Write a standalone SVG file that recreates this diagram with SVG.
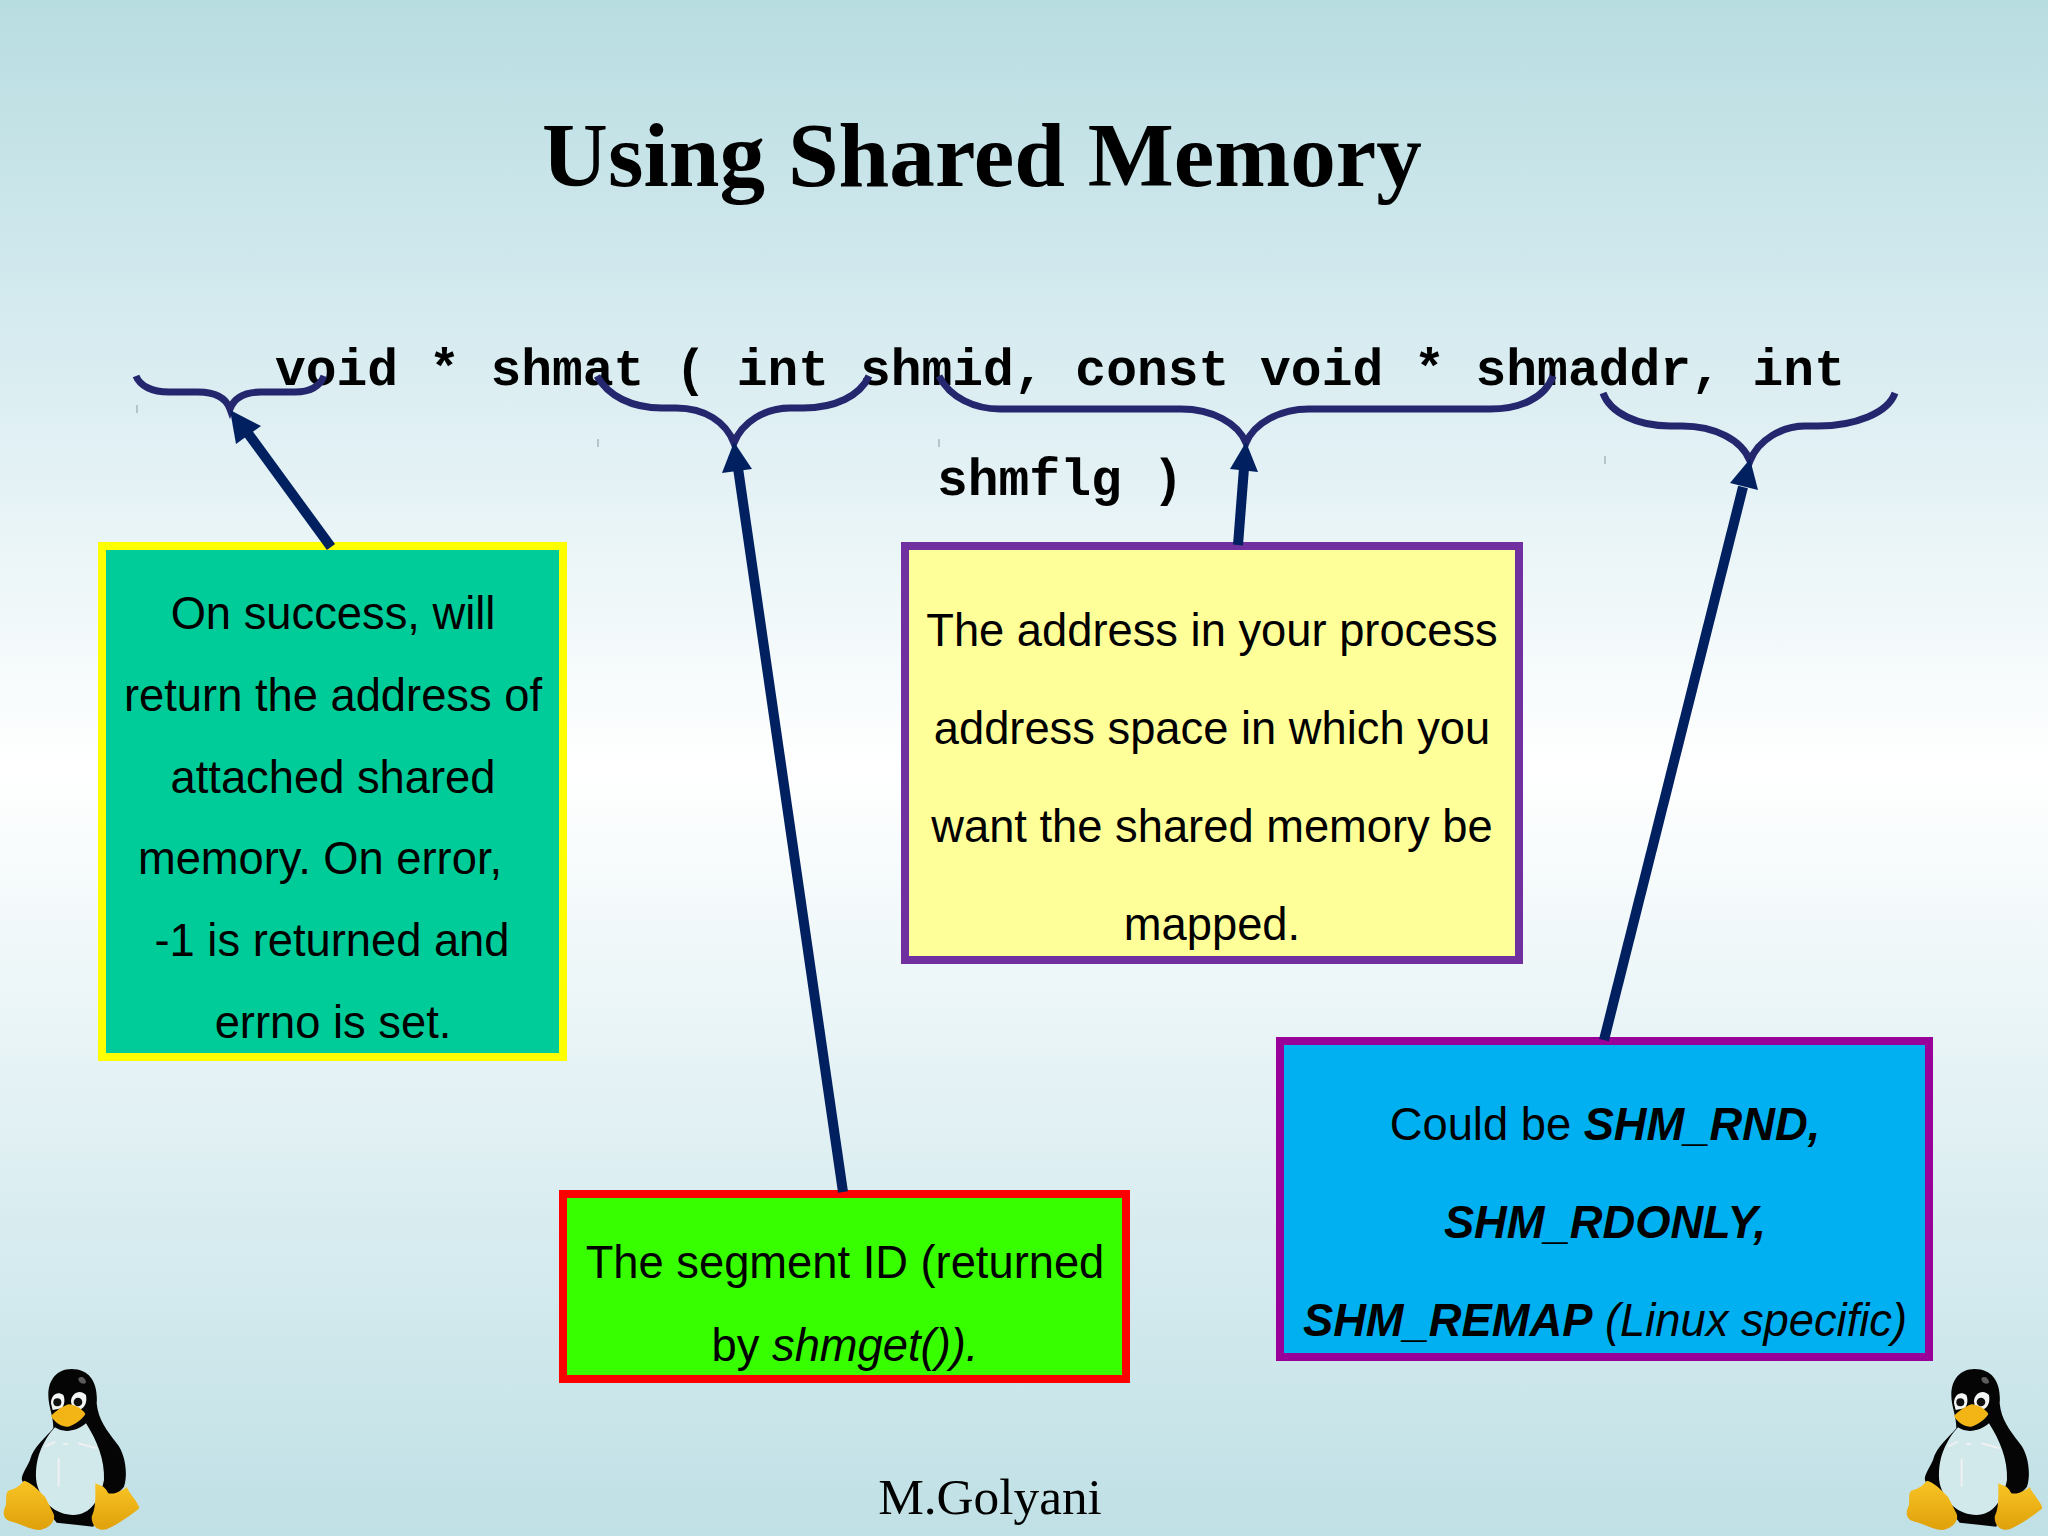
<svg xmlns="http://www.w3.org/2000/svg" xmlns:xlink="http://www.w3.org/1999/xlink" width="2048" height="1536" viewBox="0 0 2048 1536">
<style>
.s{font-family:"Liberation Sans",Arial,sans-serif;font-size:45.3px;fill:#000;text-anchor:middle}
.m{font-family:"Liberation Mono","Courier New",monospace;font-weight:bold;font-size:51.3px;fill:#000}
.b{fill:none;stroke:#24266e;stroke-width:7}
.a{stroke:#002060;stroke-width:10;fill:none}
.h{fill:#002060;stroke:none}
.t{stroke:#9aa8ae;stroke-width:1.2}
.box{stroke-width:8}
</style>
<defs>
<linearGradient id="bg" x1="0" y1="0" x2="0" y2="1">
<stop offset="0" stop-color="#b8dde1"/><stop offset="0.2" stop-color="#d4eaef"/><stop offset="0.5" stop-color="#ffffff"/><stop offset="0.8" stop-color="#d8ecf0"/><stop offset="1" stop-color="#bfe0e5"/>
</linearGradient>
<linearGradient id="ft" x1="0" y1="0" x2="0" y2="1"><stop offset="0" stop-color="#f8c425"/><stop offset="1" stop-color="#e0a00a"/></linearGradient>
<g id="tux" transform="scale(0.3333)">
<path fill="#050505" d="M215 87C170 87 145 120 145 165C145 200 160 225 160 265C140 290 100 320 90 360C80 385 58 410 68 425L110 470L170 548L280 560L300 500L372 440C385 400 375 340 350 310C320 270 295 240 290 190C295 130 270 87 215 87Z"/>
<path fill="#d2e9ec" d="M165 262C130 300 100 360 110 430C125 490 170 525 220 525C270 525 300 480 312 420C315 360 290 300 258 250C230 275 190 280 165 262Z"/>
<path fill="none" stroke="#eef0f2" stroke-width="6" d="M135 320L165 305M190 312L205 312M235 310L290 325M176 355L176 440"/>
<path fill="#f4f6f6" d="M153 190C153 165 172 152 190 165C195 175 195 195 185 205L158 210ZM213 185C213 160 240 145 258 165C262 185 255 205 240 208L215 195Z"/>
<circle cx="172" cy="187" r="12" fill="#111"/><circle cx="234" cy="186" r="13" fill="#111"/>
<path fill="#f3b516" d="M205 193C185 200 165 215 153 228C165 250 190 262 205 260C225 255 250 235 256 222C250 210 225 193 205 193Z"/>
<path fill="#5c5c5c" d="M235 115C245 105 258 115 258 128C250 135 235 130 235 115Z"/>
<path fill="url(#ft)" d="M72 422C90 425 115 450 135 470L160 520C170 540 150 565 120 570C90 570 60 550 35 545C10 540 5 520 18 495C20 470 15 455 30 450C50 445 60 435 72 422Z"/>
<path fill="url(#ft)" d="M286 430L310 440C330 465 370 455 380 440C390 465 415 485 418 505C400 520 360 550 320 568C290 575 275 555 275 530C290 500 285 460 286 430Z"/>
<path fill="#050505" d="M310 435C315 420 350 410 370 425C380 445 350 465 325 460Z"/>
</g>
</defs>
<rect id="background" width="2048" height="1536" fill="url(#bg)"/>
<text id="title" x="982" y="186" text-anchor="middle" style="font-family:'Liberation Serif','Times New Roman',serif;font-weight:bold;font-size:91.2px;fill:#000">Using Shared Memory</text>
<g id="signature-line">
<text class="m" x="275" y="385">void * shmat ( int shmid, const void * shmaddr, int</text>
<text class="m" x="937" y="495">shmflg )</text>
</g>
<g id="node-return">
<rect class="box" x="102" y="546" width="461" height="511" fill="#00cc99" stroke="#ffff00"/>
<text class="s" x="333" y="629">On success, will</text>
<text class="s" x="333" y="711">return the address of</text>
<text class="s" x="333" y="793">attached shared</text>
<text class="s" x="320" y="874">memory. On error,</text>
<text class="s" x="332" y="956">-1 is returned and</text>
<text class="s" x="333" y="1038">errno is set.</text>
</g>
<g id="node-shmid">
<rect class="box" x="563" y="1194" width="563" height="185" fill="#38ff00" stroke="#ff0000"/>
<text class="s" x="845" y="1278">The segment ID (returned</text>
<text class="s" x="845" y="1361">by <tspan font-style="italic">shmget()).</tspan></text>
</g>
<g id="node-shmaddr">
<rect class="box" x="905" y="546" width="614" height="414" fill="#ffff99" stroke="#7030a0"/>
<text class="s" x="1212" y="646">The address in your process</text>
<text class="s" x="1212" y="744">address space in which you</text>
<text class="s" x="1212" y="842">want the shared memory be</text>
<text class="s" x="1212" y="940">mapped.</text>
</g>
<g id="node-shmflg">
<rect class="box" x="1280" y="1041" width="649" height="316" fill="#00b0f0" stroke="#990099"/>
<text class="s" x="1605" y="1140">Could be <tspan font-weight="bold" font-style="italic">SHM_RND,</tspan></text>
<text class="s" x="1605" y="1238" font-weight="bold" font-style="italic">SHM_RDONLY,</text>
<text class="s" x="1605" y="1336"><tspan font-weight="bold" font-style="italic">SHM_REMAP</tspan><tspan font-style="italic"> (Linux specific)</tspan></text>
</g>
<g id="connectors">
<path class="b" d="M136 376C140 386 152 392 169 392L198 392C215 392 226 398 230 409C234 398 245 392 261 392L295 392C310 392 320 386 324 376"/>
<path class="b" d="M597 376C608 396 632 408 662 408L676 408C705 408 726 422 734 443C742 422 765 408 790 408L803 408C835 408 860 396 869 376"/>
<path class="b" d="M939 376C950 398 975 409 1000 409L1181 409C1212 409 1238 423 1246 443C1254 423 1280 409 1309 409L1490 409C1520 409 1545 398 1553 376"/>
<path class="b" d="M1603 393C1610 413 1638 426 1670 426L1682 426C1715 426 1742 440 1750 461C1758 440 1782 426 1805 426L1818 426C1855 426 1888 413 1895 393"/>
<line class="a" x1="331" y1="547" x2="247" y2="432"/><polygon class="h" points="230,410 261,426 236,444"/>
<line class="a" x1="843" y1="1192" x2="738" y2="468"/><polygon class="h" points="734,442 752,469 722,473"/>
<line class="a" x1="1238" y1="545" x2="1244" y2="468"/><polygon class="h" points="1246,442 1258,472 1230,469"/>
<line class="a" x1="1604" y1="1040" x2="1743" y2="487"/><polygon class="h" points="1750,459 1758,490 1730,483"/>
<path class="t" d="M137 405V413M598 439V447M939 439V447M1605 456V464"/>
</g>
<text id="author" x="990" y="1514" text-anchor="middle" style="font-family:'Liberation Serif','Times New Roman',serif;font-size:51.3px;fill:#000">M.Golyani</text>
<use id="tux-left" xlink:href="#tux" href="#tux" transform="translate(0,1340)"/>
<use id="tux-right" xlink:href="#tux" href="#tux" transform="translate(1903,1340)"/>
</svg>
